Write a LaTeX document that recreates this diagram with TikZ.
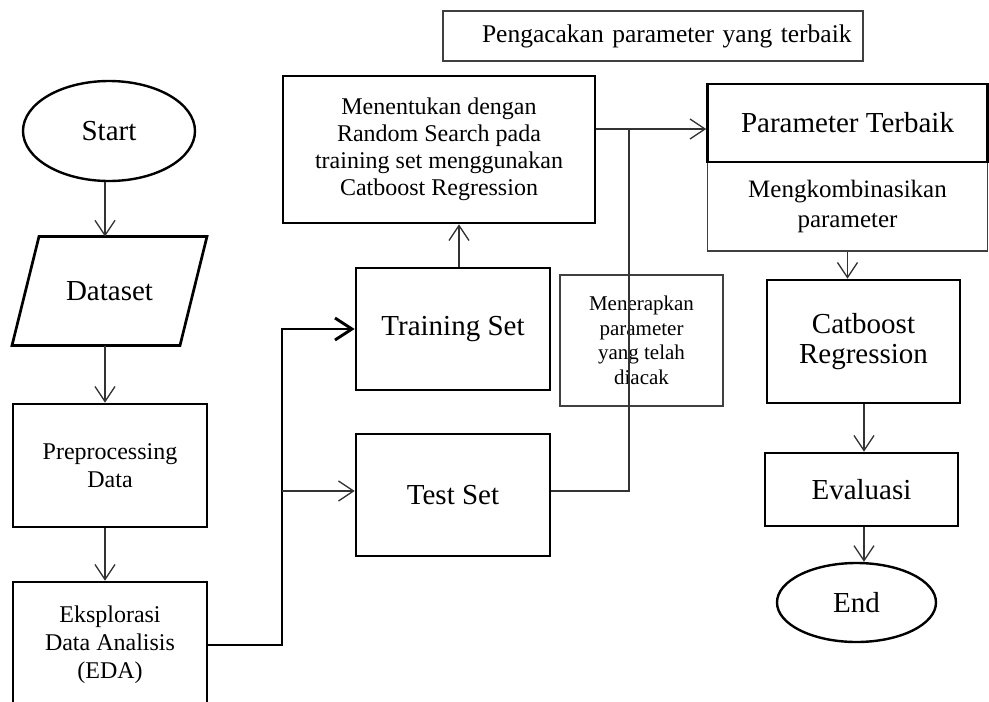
\documentclass[tikz,border=0pt]{standalone}
\usepackage{fontspec}
\setmainfont{Liberation Serif}
\usetikzlibrary{arrows.meta,shapes.geometric}

\begin{document}
\begin{tikzpicture}[x=1pt, y=-1pt,
  >={Straight Barb[length=15pt,width=20pt]},
  kotak/.style={draw=black, line width=2.7pt, rectangle, align=center, inner sep=0pt},
  tipis/.style={draw=black!75, line width=1.2pt, rectangle, align=center, inner sep=0pt},
  elips/.style={draw=black, line width=2.4pt, ellipse, inner sep=0pt},
  panah/.style={->, draw=black!80, line width=1.3pt},
  garis/.style={draw=black!80, line width=1.3pt},
  tebal/.style={-{Straight Barb[length=17pt,width=22pt]}, draw=black, line width=2.9pt},
  besar/.style={font=\fontsize{29}{30}\selectfont},
  sedang/.style={font=\fontsize{24}{28}\selectfont}]
\useasboundingbox (0,0) rectangle (989,702);
% kolom kiri
\node[elips, besar, minimum width=172pt, minimum height=100pt] (start) at (109,131) {Start};
\node[besar, inner sep=0pt, outer sep=0pt, minimum width=168pt, minimum height=109pt] (dataset) at (109.5,291) {Dataset};
\draw[line width=2.7pt] ([xshift=-13.5pt]dataset.south west) -- ([xshift=13.5pt]dataset.north west)
  -- ([xshift=13.5pt]dataset.north east) -- ([xshift=-13.5pt]dataset.south east) -- cycle;
\node[kotak, sedang, minimum width=194pt, minimum height=123pt] (preproc) at (110,465.5) {Preprocessing\\Data};
\node[kotak, sedang, minimum width=194pt, minimum height=126pt] (eda) at (110,645) {Eksplorasi\\Data Analisis\\(EDA)};
% tengah
\node[tipis, text width=420pt, align=left, minimum height=50pt, font=\fontsize{25.5}{28}\selectfont] (pengacakan) at (653,36) {\hspace*{39pt}Pengacakan parameter yang terbaik};
\node[kotak, font=\fontsize{24}{27}\selectfont, minimum width=312pt, minimum height=147pt] (menentukan) at (439,149.5) {Menentukan dengan\\Random Search pada\\training set menggunakan\\Catboost Regression};
\node[kotak, besar, minimum width=194pt, minimum height=122pt] (training) at (453,329) {Training Set};
\node[kotak, besar, minimum width=194pt, minimum height=122pt] (test) at (453,495) {Test Set};
\node[tipis, font=\fontsize{21}{24.5}\selectfont, minimum width=163pt, minimum height=131pt] (menerapkan) at (641.5,340.5) {Menerapkan\\parameter\\yang telah\\diacak};
% kolom kanan
\node[tipis, font=\fontsize{25}{30}\selectfont, minimum width=280pt, minimum height=89pt] (kombinasi) at (847.5,206.5) {Mengkombinasikan\\parameter};
\node[kotak, besar, minimum width=280pt, minimum height=78pt] (param) at (847.5,123) {Parameter Terbaik};
\node[kotak, font=\fontsize{29}{29.5}\selectfont, minimum width=193pt, minimum height=123pt] (catboost) at (863.5,341.5) {Catboost\\Regression};
\node[kotak, besar, minimum width=193pt, minimum height=73pt] (evaluasi) at (861.5,489.5) {Evaluasi};
\node[elips, besar, minimum width=159pt, minimum height=79pt] (end) at (856.5,602.5) {End};
% titik bantu
\coordinate (kiri) at (105,0);
\coordinate (cabang) at (282,491);
\coordinate (sambung) at (629,129);
\coordinate (naik) at (459,0);
\coordinate (kanan) at (864,0);
% panah kiri
\draw[panah] (kiri |- start.south) -- (kiri |- dataset.north);
\draw[panah] (kiri |- dataset.south) -- (kiri |- preproc.north);
\draw[panah] (kiri |- preproc.south) -- (kiri |- eda.north);
% pembagian data
\draw[tebal] (eda.east) -| (cabang |- training.west) -- (training.west);
\draw[panah] (cabang) -- (cabang -| test.west);
\draw[panah] (naik |- training.north) -- (naik |- menentukan.south);
\draw[garis] (cabang -| test.east) -| (sambung);
\draw[panah] (sambung -| menentukan.east) -- (sambung -| param.west);
% panah kanan
\draw[panah] (kombinasi.south) -- (kombinasi.south |- catboost.north);
\draw[panah] (kanan |- catboost.south) -- (kanan |- evaluasi.north);
\draw[panah] (kanan |- evaluasi.south) -- (kanan |- end.north);
\end{tikzpicture}
\end{document}
